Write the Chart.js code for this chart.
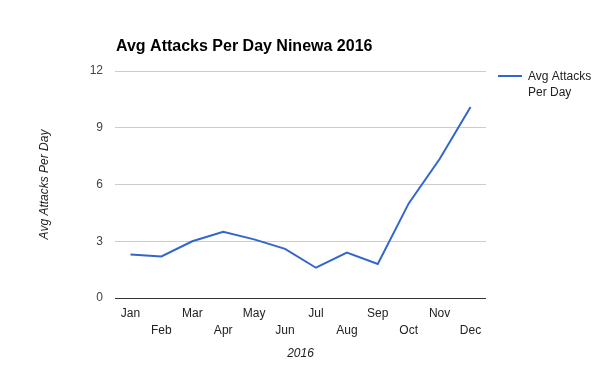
<!DOCTYPE html>
<html>
<head>
<meta charset="utf-8">
<script src="https://cdn.jsdelivr.net/npm/chart.js@4"></script>
<style>
  html, body { margin: 0; padding: 0; background: #fff; }
  #wrap { width: 600px; height: 371px; }
</style>
</head>
<body>
<div id="wrap"><canvas id="chart" width="600" height="371"></canvas></div>
<script>
// --- Data ---
const months = ["Jan", "Feb", "Mar", "Apr", "May", "Jun", "Jul", "Aug", "Sep", "Oct", "Nov", "Dec"];
const avgAttacks = [2.3, 2.2, 3.0, 3.5, 3.1, 2.6, 1.6, 2.4, 1.8, 5.0, 7.35, 10.1];
const yTicks = [0, 3, 6, 9, 12];
const seriesName = "Avg Attacks Per Day";
const chartTitle = "Avg Attacks Per Day Ninewa 2016";

const FONT = "'Liberation Sans', Arial, sans-serif";

// title + legend drawn by hand (legend text wraps in the reference)
const decorPlugin = {
    id: "decor",
    afterDraw(c) {
        const ctx = c.ctx;
        const area = c.chartArea;
        ctx.save();
        ctx.fillStyle = "#000";
        ctx.font = "bold 16px " + FONT;
        ctx.textBaseline = "alphabetic";
        ctx.textAlign = "left";
        ctx.fillText(chartTitle, area.left + 1, 51);

        // legend
        ctx.strokeStyle = "#3366cc";
        ctx.lineWidth = 2;
        ctx.beginPath();
        ctx.moveTo(498, 76);
        ctx.lineTo(522, 76);
        ctx.stroke();
        ctx.fillStyle = "#222";
        ctx.font = "12px " + FONT;
        ctx.fillText("Avg Attacks", 528, 80);
        ctx.fillText("Per Day", 528, 96);
        ctx.restore();
    }
};

const chart = new Chart(document.getElementById("chart"), {
    type: "line",
    data: {
        labels: months,
        datasets: [{
            label: seriesName,
            data: avgAttacks,
            borderColor: "#3366cc",
            borderWidth: 2,
            pointRadius: 0,
            tension: 0,
            fill: false
        }]
    },
    options: {
        responsive: false,
        animation: false,
        layout: { padding: { top: 71, right: 114, left: 0, bottom: 0 } },
        plugins: {
            legend: { display: false },
            title: { display: false },
            tooltip: { enabled: false }
        },
        scales: {
            x: {
                offset: true,
                grid: { display: false, drawTicks: false },
                border: { display: false },
                ticks: {
                    color: "#222",
                    font: { family: FONT, size: 12, lineHeight: 1.35 },
                    padding: 8,
                    maxRotation: 0,
                    autoSkip: false,
                    callback: (v, i) => i % 2 === 0 ? [months[i], ""] : ["", months[i]]
                },
                title: {
                    display: true,
                    text: "2016",
                    color: "#222",
                    font: { family: FONT, size: 12, style: "italic" },
                    padding: { top: 4, bottom: 10 }
                },
                afterFit: s => { s.height = 73; }
            },
            y: {
                min: 0,
                max: 12,
                afterBuildTicks: s => { s.ticks = yTicks.map(v => ({ value: v })); },
                grid: {
                    drawTicks: false,
                    color: ctx => ctx.tick && ctx.tick.value === 0 ? "#333" : "#ccc",
                    lineWidth: 1
                },
                border: { display: false },
                ticks: {
                    color: "#444",
                    font: { family: FONT, size: 12 },
                    padding: 12
                },
                title: {
                    display: true,
                    text: "Avg Attacks Per Day",
                    color: "#222",
                    font: { family: FONT, size: 12, style: "italic" },
                    padding: { top: 37, bottom: 0 }
                },
                afterFit: s => { s.width = 115; }
            }
        }
    },
    plugins: [decorPlugin]
});
</script>
</body>
</html>
